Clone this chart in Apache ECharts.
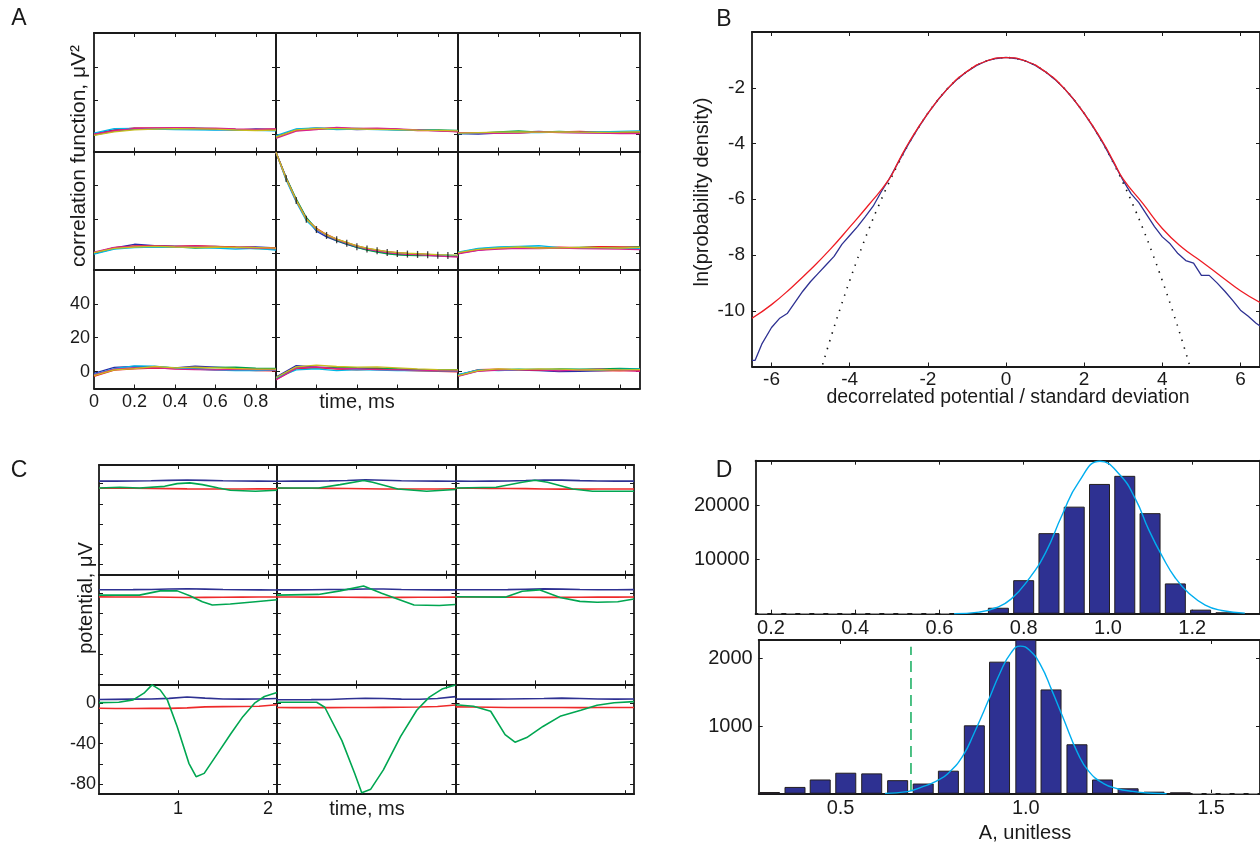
<!DOCTYPE html>
<html><head><meta charset="utf-8">
<script src="https://cdn.jsdelivr.net/npm/echarts@6/dist/echarts.min.js"></script>
<style>html,body{margin:0;padding:0;background:#fff}#c{width:1260px;height:845px}</style>
</head><body><div id="c"></div>
<script>
// ================= DATA =================
// Panel A: correlation functions, x = lag (ms)
const A_X10 = [0,0.1,0.2,0.3,0.4,0.5,0.6,0.7,0.8,0.9];
const A_X19 = [0,0.05,0.1,0.15,0.2,0.25,0.3,0.35,0.4,0.45,0.5,0.55,0.6,0.65,0.7,0.75,0.8,0.85,0.9];
const A_XTICKS = [0.2,0.4,0.6,0.8];
const A_XLABELS = [0,0.2,0.4,0.6,0.8];
const A_YTICKS = [0,20,40];
// each subplot: blue, green, red, cyan, magenta, yellow
const A11 = [[0.5,2.8,3.5,3.6,3.4,3.2,3.0,2.6,3.4,3.0],[-0.3,2.0,3.2,3.3,3.6,3.8,3.5,3.0,2.6,2.8],[0.0,2.4,3.9,3.8,3.9,3.7,3.4,3.1,2.9,3.2],[0.8,3.5,3.6,3.3,3.0,2.8,2.6,2.9,2.5,2.2],[0.2,2.2,3.7,4.0,4.1,3.9,3.8,3.3,3.0,3.4],[-0.5,1.6,2.8,3.2,3.5,3.4,3.2,2.7,2.4,2.6]];
const A12 = [[-1.2,3.0,3.8,3.6,2.9,3.3,3.0,2.6,2.4,2.0],[-1.8,2.6,3.5,3.4,3.6,3.2,3.0,2.9,2.7,2.5],[-1.0,2.4,3.2,3.9,3.4,3.5,3.1,2.4,2.3,1.8],[-0.6,3.3,3.9,3.0,3.2,3.0,2.7,2.8,2.5,2.3],[-2.2,2.0,3.0,4.2,3.6,3.8,3.3,2.8,2.2,1.6],[-1.5,2.8,3.6,3.5,3.3,3.1,2.9,2.6,2.5,2.2]];
const A13 = [[0.5,0.3,0.8,1.5,1.9,1.3,1.2,1.0,0.9,1.2],[0.9,0.9,1.6,2.1,1.4,1.8,1.5,1.4,1.3,1.0],[1.0,1.2,1.1,1.0,1.4,1.6,1.9,1.5,1.4,1.6],[0.6,0.7,1.2,1.3,1.2,1.4,1.3,1.6,1.9,2.2],[1.2,1.0,0.7,0.9,1.6,1.2,1.0,0.8,0.6,0.5],[0.8,1.1,1.4,1.6,1.5,1.6,1.4,1.3,1.4,1.6]];
const A21 = [[0.2,3.0,5.2,4.4,4.1,3.8,3.9,3.4,3.6,3.0],[-0.3,2.6,3.8,3.9,3.7,3.0,3.2,3.3,2.6,2.4],[0.0,3.2,4.3,4.2,4.0,4.4,4.0,3.6,3.3,3.1],[-0.6,2.4,3.2,3.5,3.4,3.6,3.0,2.3,2.8,1.8],[0.5,3.4,4.0,4.1,3.8,4.2,3.7,3.2,3.0,2.7],[0.3,2.8,3.6,3.9,3.6,3.4,3.6,3.4,3.2,2.9]];
const A22 = [[59.5,44.5,31.5,20.5,13.0,9.6,7.2,5.2,3.4,2.0,1.0,0.0,-0.8,-1.2,-1.3,-1.4,-1.6,-1.8,-1.9],[59.5,44.8,32.0,21.0,14.2,10.2,7.5,5.4,3.3,1.8,0.6,-0.4,-1.0,-1.3,-1.5,-1.5,-1.4,-1.5,-1.6],[59.5,43.6,30.8,19.8,14.6,11.0,8.2,6.2,4.2,2.8,1.8,0.8,0.2,-0.2,-0.4,-0.8,-1.2,-1.5,-1.7],[59.5,43.2,30.2,19.2,13.4,10.6,8.0,6.0,4.0,2.6,1.6,0.6,0.0,-0.4,-0.6,-0.9,-1.1,-1.3,-1.5],[59.5,44.2,31.0,20.2,14.0,10.5,7.9,5.9,3.9,2.4,1.3,0.3,-0.3,-0.7,-0.9,-1.3,-1.7,-2.1,-2.4],[59.5,44.0,31.3,20.0,14.4,10.8,8.3,6.3,4.3,2.9,1.9,0.9,0.3,-0.1,-0.3,-0.6,-0.9,-1.1,-1.2]];
const A22_ERR_X = [0.05,0.1,0.15,0.2,0.25,0.3,0.35,0.4,0.45,0.5,0.55,0.6,0.65,0.7,0.75,0.8,0.85];
const A22_ERR_Y = [44,31,20,13.9,10.4,7.8,5.8,3.8,2.4,1.4,0.4,-0.2,-0.6,-0.8,-1.0,-1.3,-1.5];
const A23 = [[-0.2,1.8,2.9,3.3,3.0,2.8,3.0,2.9,3.2,3.0],[0.3,2.4,3.2,3.8,3.4,3.0,3.3,3.6,3.4,3.8],[0.0,2.0,2.6,3.0,3.2,3.5,3.2,3.8,3.6,3.3],[0.5,2.8,3.6,4.0,4.4,3.2,2.9,3.0,2.8,2.6],[-0.5,1.6,2.4,2.8,2.6,2.9,2.6,2.5,2.3,2.0],[0.2,2.2,3.0,3.6,3.0,3.1,3.4,3.2,3.0,3.4]];
const A31 = [[-1.0,2.5,3.0,2.8,2.2,3.2,2.6,2.0,1.6,1.2],[-2.2,1.2,2.0,2.6,2.3,2.0,2.4,2.6,2.0,1.8],[-2.8,0.8,1.6,2.0,1.8,1.5,1.2,1.0,0.6,0.4],[-1.6,1.8,3.4,3.2,2.0,1.5,0.9,0.6,0.5,0.8],[-1.9,1.5,2.2,2.4,1.5,1.2,1.0,1.2,1.1,1.0],[-2.4,1.0,1.8,3.0,2.2,2.6,2.2,1.8,1.5,1.4]];
const A32 = [[-3.2,3.5,2.6,2.4,2.0,1.8,1.4,1.2,0.8,0.6],[-4.2,2.4,2.0,2.6,2.2,2.0,1.6,1.2,1.0,1.2],[-4.6,1.6,2.4,1.5,1.0,1.4,0.8,0.4,0.2,-0.2],[-3.8,1.0,1.6,0.6,1.2,0.8,0.5,0.6,0.4,0.3],[-5.0,2.0,2.8,1.8,1.6,1.2,1.0,0.8,0.5,0.4],[-3.5,2.8,3.8,3.0,2.6,2.8,2.2,1.6,1.2,1.0]];
const A33 = [[-2.0,0.8,1.0,0.8,0.6,0.0,0.2,0.4,0.8,1.0],[-2.6,0.4,1.2,1.5,1.2,1.6,1.4,1.6,1.8,1.6],[-2.2,1.2,1.4,1.0,0.8,1.2,0.8,0.6,0.4,0.6],[-1.8,1.0,0.6,1.0,1.4,1.0,1.2,0.9,1.3,1.5],[-2.8,0.2,0.8,1.2,1.0,0.4,1.0,1.4,0.8,0.2],[-2.4,0.6,1.6,1.2,1.6,1.4,1.0,1.2,1.0,1.2]];

// Panel B: log probability density
const B_XTICKS = [-6,-4,-2,0,2,4,6];
const B_YTICKS = [-10,-8,-6,-4,-2];
const B_GAUSS_X = [-4.75,-4.5,-4.25,-4,-3.75,-3.5,-3.25,-3,-2.75,-2.5,-2.25,-2,-1.75,-1.5,-1.25,-1,-0.75,-0.5,-0.25,0,0.25,0.5,0.75,1,1.25,1.5,1.75,2,2.25,2.5,2.75,3,3.25,3.5,3.75,4,4.25,4.5,4.75];
const B_GAUSS_Y = [-12.2,-11.04,-9.95,-8.92,-7.95,-7.04,-6.2,-5.42,-4.7,-4.04,-3.45,-2.92,-2.45,-2.04,-1.7,-1.42,-1.2,-1.04,-0.95,-0.92,-0.95,-1.04,-1.2,-1.42,-1.7,-2.04,-2.45,-2.92,-3.45,-4.04,-4.7,-5.42,-6.2,-7.04,-7.95,-8.92,-9.95,-11.04,-12.2];
const B_FIT_X = [-6.5,-6,-5.5,-5,-4.5,-4,-3.5,-3,-2.75,-2.5,-2,-1.5,-1,-0.5,0,0.5,1,1.5,2,2.5,2.75,3,3.5,4,4.5,5,5.5,6,6.5];
const B_FIT_Y = [-10.27,-9.78,-9.18,-8.52,-7.8,-7.0,-6.18,-5.3,-4.64,-4.0,-2.92,-2.04,-1.42,-1.04,-0.92,-1.04,-1.42,-2.04,-2.92,-4.0,-4.64,-5.28,-6.15,-7.05,-7.72,-8.23,-8.76,-9.28,-9.7];
const B_DATA_X = [-6.5,-6.42,-6.25,-6.0,-5.8,-5.6,-5.4,-5.2,-5.0,-4.8,-4.6,-4.4,-4.2,-4.0,-3.8,-3.6,-3.4,-3.2,-3.0,-2.75,-2.5,-2.25,-2,-1.75,-1.5,-1.25,-1,-0.75,-0.5,-0.25,0,0.25,0.5,0.75,1,1.25,1.5,1.75,2,2.25,2.5,2.75,3.0,3.2,3.4,3.6,3.8,4.0,4.2,4.4,4.6,4.8,5.0,5.2,5.4,5.6,5.8,6.0,6.2,6.4,6.5];
const B_DATA_Y = [-11.78,-11.78,-11.2,-10.6,-10.28,-10.1,-9.7,-9.3,-8.95,-8.65,-8.35,-8.05,-7.62,-7.3,-6.98,-6.62,-6.25,-5.75,-5.3,-4.66,-4.03,-3.45,-2.92,-2.45,-2.04,-1.7,-1.42,-1.2,-1.04,-0.95,-0.91,-0.95,-1.04,-1.2,-1.42,-1.7,-2.04,-2.45,-2.92,-3.45,-4.03,-4.68,-5.33,-5.8,-6.12,-6.55,-6.98,-7.35,-7.6,-7.95,-8.2,-8.29,-8.73,-8.73,-9.0,-9.3,-9.63,-9.98,-10.2,-10.45,-10.55];

// Panel C: potentials (µV) vs time (ms)
const C_X = [0.12,0.3,0.5,0.7,0.9,1.1,1.3,1.5,1.7,1.9,2.1];
const C_XTICKS = [1,2];
const C_YTICKS = [-80,-60,-40,-20,0];
const C_YLABELS = [-80,-40,0];
const C_BLUE = [
 [2.5,2.5,2.6,2.8,3.2,3.6,3.2,2.8,2.6,2.5,2.4],
 [2.4,2.5,2.5,2.7,3.1,3.8,3.3,2.8,2.6,2.5,2.3],
 [2.5,2.4,2.5,2.6,3.0,3.5,3.4,2.9,2.6,2.5,2.5],
 [3.6,3.6,3.7,3.9,4.3,4.6,4.2,3.8,3.6,3.5,3.4],
 [3.5,3.5,3.6,3.8,4.0,4.4,4.3,3.9,3.6,3.5,3.5],
 [3.6,3.6,3.6,3.7,4.1,4.5,4.2,3.8,3.6,3.6,3.7],
 [3.6,3.8,4.0,4.2,4.8,6.2,5.0,4.2,4.0,4.2,4.6],
 [3.4,3.4,3.5,3.7,4.4,4.9,4.6,4.0,3.9,4.6,6.5],
 [4.0,4.0,4.0,4.2,4.4,4.6,5.0,4.6,4.2,4.0,4.2]];
const C_RED = [
 [-4.6,-4.5,-4.6,-4.8,-5.0,-5.2,-5.3,-5.4,-5.3,-5.2,-5.2],
 [-4.5,-4.6,-4.6,-4.7,-4.9,-5.1,-5.3,-5.4,-5.4,-5.3,-5.1],
 [-4.6,-4.6,-4.7,-4.8,-5.0,-5.3,-5.5,-5.5,-5.4,-5.3,-5.3],
 [-3.4,-3.5,-3.5,-3.6,-3.8,-4.0,-3.9,-3.8,-3.7,-3.6,-3.5],
 [-3.6,-3.6,-3.7,-3.7,-3.8,-3.9,-4.0,-3.9,-3.8,-3.8,-3.7],
 [-3.5,-3.5,-3.6,-3.7,-3.8,-3.9,-3.9,-3.8,-3.7,-3.7,-3.6],
 [-5.0,-5.2,-5.2,-5.0,-5.1,-4.6,-3.6,-3.4,-3.2,-3.0,-1.5],
 [-4.3,-4.4,-4.4,-4.4,-4.3,-4.2,-4.1,-4.0,-3.8,-3.2,-1.7],
 [-3.6,-3.8,-4.0,-4.2,-4.3,-4.3,-4.3,-4.4,-4.3,-4.2,-4.3]];
const C_GREEN = [
 [[0.12,-4.3],[0.35,-3.6],[0.57,-4.3],[0.85,-2.7],[0.99,0],[1.13,0.7],[1.27,-1],[1.45,-4.3],[1.58,-6.6],[1.86,-7.6],[2.1,-6.6]],
 [[0.12,-4.3],[0.58,-4.3],[0.82,-1],[1.08,3],[1.18,1.3],[1.46,-5.3],[1.78,-7.6],[2.1,-5.9]],
 [[0.12,-4.3],[0.57,-3.6],[0.86,1.3],[1.0,3.3],[1.14,1.3],[1.42,-5.3],[1.64,-7.6],[2.1,-7.6]],
 [[0.12,-1.7],[0.57,-1.7],[0.8,2.5],[0.99,2.5],[1.13,-2.4],[1.27,-8.2],[1.38,-11.5],[1.58,-10.5],[1.86,-8.2],[2.1,-6.3]],
 [[0.12,-1.7],[0.58,-1],[0.82,2.5],[1.08,7.4],[1.28,0.2],[1.64,-11.5],[1.92,-12],[2.1,-11]],
 [[0.12,-3.3],[0.67,-3.7],[0.86,2.2],[1.05,3.5],[1.28,-4],[1.5,-7.9],[1.69,-8.8],[1.92,-8.2],[2.1,-5.6]],
 [[0.12,0.6],[0.34,0.9],[0.5,3.3],[0.62,9.9],[0.71,18.1],[0.8,13.2],[0.88,3.3],[0.99,-23.2],[1.12,-59.5],[1.2,-72.7],[1.29,-69.4],[1.44,-49.6],[1.59,-29.7],[1.72,-13.3],[1.85,0],[1.96,6.6],[2.1,10.5]],
 [[0.12,0.9],[0.56,0.9],[0.65,-4],[0.84,-37],[0.98,-69],[1.06,-88.5],[1.16,-85],[1.3,-66],[1.49,-33],[1.67,-7],[1.81,6],[1.95,14],[2.1,18]],
 [[0.12,-1.5],[0.32,-3],[0.51,-8],[0.67,-31],[0.78,-38.5],[0.91,-34],[1.09,-23],[1.28,-13],[1.51,-7],[1.69,-2],[1.88,0.5],[2.1,1.6]]];

// Panel D: histograms of A
const D1_XTICKS = [0.2,0.4,0.6,0.8,1.0,1.2];
const D1_YTICKS = [10000,20000];
const D1_BIN = [0.74,0.80,0.86,0.92,0.98,1.04,1.10,1.16,1.22,1.28];
const D1_COUNT = [1100,6200,14900,19800,24000,25500,18600,5600,750,250];
const D1_FIT_X = [0.635,0.694,0.734,0.77,0.812,0.852,0.891,0.931,0.981,1.027,1.066,1.097,1.129,1.16,1.192,1.231,1.27,1.325];
const D1_FIT_Y = [0,300,1100,2700,6400,11300,18200,24400,28200,25800,21100,15500,10600,6600,3800,1600,600,100];
const D1_EMPTY = [[0.17,0],[0.64,0]];
const D2_XTICKS = [0.5,1.0,1.5];
const D2_YTICKS = [1000,2000];
const D2_BIN = [0.308,0.377,0.445,0.514,0.584,0.654,0.723,0.791,0.861,0.929,1.0,1.068,1.138,1.207,1.276,1.346,1.417];
const D2_COUNT = [25,100,210,310,300,200,150,340,1010,1950,2400,1540,730,210,80,30,20];
const D2_FIT_X = [0.62,0.68,0.72,0.76,0.79,0.83,0.86,0.90,0.93,0.96,0.985,1.01,1.04,1.07,1.10,1.14,1.17,1.21,1.25,1.28,1.33,1.38];
const D2_FIT_Y = [5,30,100,190,300,560,890,1390,1780,2080,2180,2120,1900,1530,1130,600,330,150,70,40,10,0];
const D2_CUT = [[0.69,40],[0.69,2170]];
const D2_EMPTY = [[1.45,0],[1.63,0]];

// ================= BUILD =================
const FONT = "'Liberation Sans', Arial, Helvetica, sans-serif";
const INK = '#1a1a1a';
const grids = [], xAxis = [], yAxis = [], series = [];
const zip = (xs, ys) => xs.map((x, i) => [x, ys[i]]);
const plain = v => String(v);

function panel(p) {
  const gi = grids.length;
  grids.push({left: p.left, top: p.top, width: p.width, height: p.height, show: false, containLabel: false});
  const line = {show: true, onZero: false, lineStyle: {color: INK, width: p.lw || 1.6}};
  const tick = v => ({show: true, inside: true, length: 4, customValues: v, lineStyle: {color: INK, width: 1}});
  const lab = (vals, margin, fs, fmt) => vals ? {show: true, customValues: vals, margin: margin, fontSize: fs, fontFamily: FONT, color: INK, formatter: fmt || plain} : {show: false};
  const xi = xAxis.length;
  xAxis.push({gridIndex: gi, type: 'value', position: 'bottom', min: p.xmin, max: p.xmax, axisLine: line, axisTick: tick(p.xticks), splitLine: {show: false}, axisLabel: lab(p.xlabels, p.xm, p.fs, p.xfmt)});
  xAxis.push({gridIndex: gi, type: 'value', position: 'top', min: p.xmin, max: p.xmax, axisLine: line, axisTick: tick(p.xticks), splitLine: {show: false}, axisLabel: {show: false}});
  const yi = yAxis.length;
  yAxis.push({gridIndex: gi, type: 'value', position: 'left', min: p.ymin, max: p.ymax, axisLine: line, axisTick: tick(p.yticks), splitLine: {show: false}, axisLabel: lab(p.ylabels, p.ym, p.fs, p.yfmt)});
  yAxis.push({gridIndex: gi, type: 'value', position: 'right', min: p.ymin, max: p.ymax, axisLine: line, axisTick: tick(p.yticks), splitLine: {show: false}, axisLabel: {show: false}});
  return {xi, yi};
}
function addLine(ax, data, color, width, extra) {
  series.push(Object.assign({type: 'line', xAxisIndex: ax.xi, yAxisIndex: ax.yi, data: data, symbol: 'none', silent: true, animation: false,
    lineStyle: {color: color, width: width}}, extra || {}));
}

// ---- Panel A ----
const A_COLORS = ['#2a2aa8', '#00a04a', '#ee1c24', '#00b8e6', '#d9208f', '#c8bc20'];
const A_SUBS = [[A11, A12, A13], [A21, A22, A23], [A31, A32, A33]];
const A_LEFT = [94, 276, 458], A_TOP = [33, 151.5, 270];
for (let r = 0; r < 3; r++) for (let c = 0; c < 3; c++) {
  const bl = (r === 2 && c === 0);
  const ax = panel({left: A_LEFT[c], top: A_TOP[r], width: 182, height: 118.5, xmin: 0, xmax: 0.9, ymin: -10, ymax: 60,
    xticks: A_XTICKS, yticks: A_YTICKS, xlabels: bl ? A_XLABELS : null, ylabels: bl ? A_YTICKS : null, xm: 5, ym: 4, fs: 18, lw: 1.8});
  const sub = A_SUBS[r][c];
  const xs = (r === 1 && c === 1) ? A_X19 : A_X10;
  sub.forEach((ys, k) => addLine(ax, zip(xs, ys), A_COLORS[k], 1.3));
  if (r === 1 && c === 1) {
    series.push({type: 'scatter', xAxisIndex: ax.xi, yAxisIndex: ax.yi, data: zip(A22_ERR_X, A22_ERR_Y), symbol: 'rect', symbolSize: [1.3, 7],
      itemStyle: {color: '#111'}, silent: true, animation: false, z: 5});
  }
}

// ---- Panel B ----
const axB = panel({left: 752, top: 32, width: 516, height: 334.5, xmin: -6.5, xmax: 6.5, ymin: -12, ymax: 0,
  xticks: B_XTICKS, yticks: B_YTICKS, xlabels: B_XTICKS, ylabels: B_YTICKS, xm: 4, ym: 7, fs: 19, lw: 1.8});
addLine(axB, zip(B_GAUSS_X, B_GAUSS_Y), '#111', 1.6, {smooth: true, lineStyle: {color: '#111', width: 1.6, type: [1.4, 6.6]}, z: 3});
addLine(axB, zip(B_DATA_X, B_DATA_Y), '#2e3192', 1.3, {z: 4});
addLine(axB, zip(B_FIT_X, B_FIT_Y), '#ee1c24', 1.3, {smooth: true, z: 5});

// ---- Panel C ----
const C_LEFT = [99, 277, 455.5], C_W = [178, 178.5, 178.5], C_TOP = [465, 574.8, 684.6];
for (let r = 0; r < 3; r++) for (let c = 0; c < 3; c++) {
  const bl = (r === 2 && c === 0);
  const ax = panel({left: C_LEFT[c], top: C_TOP[r], width: C_W[c], height: 109.6, xmin: 0.12, xmax: 2.1, ymin: -90, ymax: 18.4,
    xticks: C_XTICKS, yticks: C_YTICKS, xlabels: bl ? C_XTICKS : null, ylabels: bl ? C_YLABELS : null, xm: 6, ym: 3, fs: 18, lw: 1.8});
  const i = r * 3 + c;
  addLine(ax, zip(C_X, C_BLUE[i]), '#2e3192', 1.6);
  addLine(ax, zip(C_X, C_RED[i]), '#ee2a2a', 1.6);
  addLine(ax, C_GREEN[i], '#00a651', 1.6, {z: 4});
}

// ---- Panel D ----
const fmt1 = v => v.toFixed(1);
const axD1 = panel({left: 755.6, top: 460.7, width: 506.5, height: 153, xmin: 0.1636, xmax: 1.361, ymin: 0, ymax: 28300,
  xticks: D1_XTICKS, yticks: D1_YTICKS, xlabels: D1_XTICKS, ylabels: D1_YTICKS, xm: 5, ym: 6, fs: 20, xfmt: fmt1, lw: 1.8});
series.push({type: 'bar', xAxisIndex: axD1.xi, yAxisIndex: axD1.yi, data: zip(D1_BIN, D1_COUNT), barWidth: 21, silent: true, animation: false,
  itemStyle: {color: '#2e3192', borderColor: '#231f20', borderWidth: 1}});
addLine(axD1, D1_EMPTY, '#999', 1.2, {lineStyle: {color: '#999', width: 1.2, type: [9, 5]}, z: 3});
addLine(axD1, zip(D1_FIT_X, D1_FIT_Y), '#00aeef', 1.4, {smooth: true, z: 5});

const axD2 = panel({left: 758.7, top: 640, width: 503.3, height: 153.7, xmin: 0.279, xmax: 1.632, ymin: 0, ymax: 2270,
  xticks: D2_XTICKS, yticks: D2_YTICKS, xlabels: D2_XTICKS, ylabels: D2_YTICKS, xm: 5, ym: 6, fs: 20, xfmt: fmt1, lw: 1.8});
series.push({type: 'bar', xAxisIndex: axD2.xi, yAxisIndex: axD2.yi, data: zip(D2_BIN, D2_COUNT), barWidth: 21, silent: true, animation: false, clip: true,
  itemStyle: {color: '#2e3192', borderColor: '#231f20', borderWidth: 1}});
addLine(axD2, D2_EMPTY, '#999', 1.2, {lineStyle: {color: '#999', width: 1.2, type: [9, 5]}, z: 3});
addLine(axD2, D2_CUT, '#00a651', 1.4, {lineStyle: {color: '#00a651', width: 1.4, type: [11, 6]}, z: 4});
addLine(axD2, zip(D2_FIT_X, D2_FIT_Y), '#00aeef', 1.4, {smooth: true, z: 5});

// ---- Text ----
function txt(x, y, s, size, rot) {
  return {type: 'text', x: x, y: y, rotation: rot || 0, silent: true, z: 100,
    style: {text: s, fontSize: size, fontFamily: FONT, fill: INK, align: 'center', verticalAlign: 'middle', textAlign: 'center', textVerticalAlign: 'middle'}};
}
const R = Math.PI / 2;
const graphic = [
  txt(19, 19, 'A', 23), txt(724, 20, 'B', 23), txt(19, 471, 'C', 23), txt(724, 471, 'D', 23),
  txt(79, 156, 'correlation function, μV²', 21, R),
  txt(357, 402, 'time, ms', 20),
  txt(702, 192, 'ln(probability density)', 20, R),
  txt(1008, 398, 'decorrelated potential / standard deviation', 19.5),
  txt(86, 598, 'potential, μV', 20, R),
  txt(367, 809, 'time, ms', 20),
  txt(1025, 833, 'A, unitless', 20)
];

const chart = echarts.init(document.getElementById('c'), null, {renderer: 'canvas', width: 1260, height: 845});
chart.setOption({animation: false, backgroundColor: '#fff', grid: grids, xAxis: xAxis, yAxis: yAxis, series: series, graphic: graphic});
</script></body></html>
